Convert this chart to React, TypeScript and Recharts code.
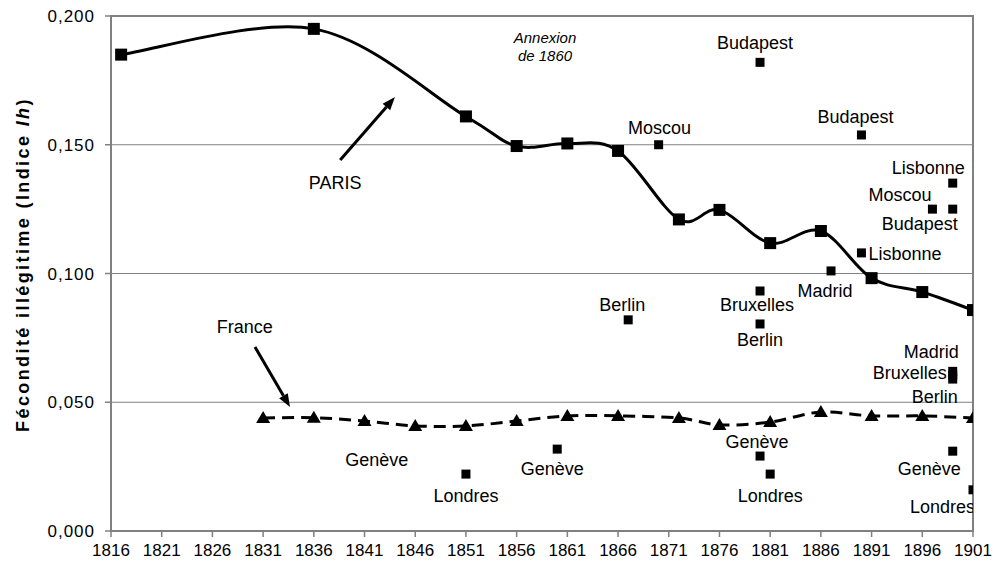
import {
  ComposedChart,
  Line,
  Scatter,
  XAxis,
  YAxis,
  CartesianGrid,
  ReferenceArea,
  ReferenceLine,
  ReferenceDot,
  Label,
} from "recharts";

const xTicks = [1816, 1821, 1826, 1831, 1836, 1841, 1846, 1851, 1856, 1861, 1866, 1871, 1876, 1881, 1886, 1891, 1896, 1901];
const yTicks = [0, 0.05, 0.1, 0.15, 0.2];

const parisYears = [1817, 1836, 1851, 1856, 1861, 1866, 1872, 1876, 1881, 1886, 1891, 1896, 1901];
const parisValues = [0.185, 0.195, 0.161, 0.1495, 0.1505, 0.1476, 0.121, 0.1247, 0.1118, 0.1165, 0.0982, 0.0928, 0.0858];

const franceYears = [1831, 1836, 1841, 1846, 1851, 1856, 1861, 1866, 1872, 1876, 1881, 1886, 1891, 1896, 1901];
const franceValues = [0.0439, 0.044, 0.0427, 0.0408, 0.0408, 0.0427, 0.0447, 0.0447, 0.0439, 0.0412, 0.0423, 0.0462, 0.0447, 0.0447, 0.0439];

const cityNames = [
  "Budapest", "Moscou", "Budapest", "Lisbonne", "Moscou", "Budapest", "Lisbonne", "Madrid",
  "Bruxelles", "Berlin", "Berlin", "Madrid", "Bruxelles", "Berlin",
  "Genève", "Londres", "Genève", "Londres", "Genève", "Londres",
];
const cityYears = [1880, 1870, 1890, 1899, 1897, 1899, 1890, 1887, 1880, 1867, 1880, 1899, 1899, 1899, 1860, 1851, 1880, 1881, 1899, 1901];
const cityValues = [0.182, 0.15, 0.1538, 0.1351, 0.125, 0.125, 0.108, 0.101, 0.0932, 0.082, 0.0804, 0.062, 0.0605, 0.059, 0.0318, 0.0221, 0.0291, 0.0221, 0.031, 0.016];

// label placement for each city point, same order as cityNames: [anchor, dx, dy]
const cityLabelPos: [string, number, number][] = [
  ["middle", -5, -13], ["middle", 1, -11], ["middle", -6, -12], ["end", 12, -9],
  ["end", -1, -8], ["end", 5, 21], ["start", 7, 7], ["middle", -6, 26],
  ["middle", -3, 20], ["middle", -6, -9], ["middle", 0, 22], ["end", 6, -13],
  ["end", -6, 4], ["end", 5, 24], ["middle", -5, 26], ["middle", 0, 28],
  ["middle", -3, -8], ["middle", 0, 28], ["end", 8, 24], ["end", 2, 23],
];

const parisData = parisYears.map((year, i) => ({ year, value: parisValues[i] }));
const franceData = franceYears.map((year, i) => ({ year, value: franceValues[i] }));
const cityData = cityNames.map((name, i) => ({ name, idx: i, year: cityYears[i], value: cityValues[i] }));

const FONT = "'Liberation Sans', Arial, sans-serif";
const GRAY = "#808080";

// Excel-like smoothed line (Catmull-Rom through the points)
const excelSmooth = (context: any) => {
  let pts: number[][] = [];
  return {
    areaStart() {},
    areaEnd() {},
    lineStart() {
      pts = [];
    },
    point(x: number, y: number) {
      pts.push([+x, +y]);
    },
    lineEnd() {
      const n = pts.length;
      if (!n) return;
      context.moveTo(pts[0][0], pts[0][1]);
      for (let i = 0; i < n - 1; i++) {
        const p0 = pts[Math.max(i - 1, 0)];
        const p1 = pts[i];
        const p2 = pts[i + 1];
        const p3 = pts[Math.min(i + 2, n - 1)];
        context.bezierCurveTo(
          p1[0] + (p2[0] - p0[0]) / 6,
          p1[1] + (p2[1] - p0[1]) / 6,
          p2[0] - (p3[0] - p1[0]) / 6,
          p2[1] - (p3[1] - p1[1]) / 6,
          p2[0],
          p2[1]
        );
      }
    },
  };
};

const fmt = (v: number) => v.toFixed(3).replace(".", ",");

const XTick = (p: any) => (
  <text x={p.x} y={p.y} dy="0.75em" textAnchor="middle" fontSize={17} fontFamily={FONT} fill="#000">
    {p.payload.value}
  </text>
);

const YTick = (p: any) => (
  <text x={p.x} y={p.y} dy="0.36em" textAnchor="end" fontSize={17} letterSpacing={1} fontFamily={FONT} fill="#000">
    {fmt(p.payload.value)}
  </text>
);

const SquareDot = (p: any) => (
  <rect key={`sq-${p.index}`} x={p.cx - 6} y={p.cy - 6} width={12} height={12} fill="#000" />
);

const TriangleDot = (p: any) => (
  <polygon
    key={`tr-${p.index}`}
    points={`${p.cx},${p.cy - 7} ${p.cx + 7},${p.cy + 5} ${p.cx - 7},${p.cy + 5}`}
    fill="#000"
  />
);

const CityShape = (p: any) => {
  const d = p.payload ?? p;
  const [anchor, dx, dy] = cityLabelPos[d.idx] ?? ["middle", 0, -10];
  return (
    <g>
      <rect x={p.cx - 4.5} y={p.cy - 4.5} width={9} height={9} fill="#000" />
      <text x={p.cx + dx} y={p.cy + dy} textAnchor={anchor} fontSize={18} fontFamily={FONT} fill="#000">
        {d.name}
      </text>
    </g>
  );
};

const Arrow = (p: any) => {
  const { x1, y1, x2, y2 } = p;
  const ang = Math.atan2(y2 - y1, x2 - x1);
  const len = 13;
  const w = 5;
  const bx = x2 - len * Math.cos(ang);
  const by = y2 - len * Math.sin(ang);
  const nx = -Math.sin(ang) * w;
  const ny = Math.cos(ang) * w;
  return (
    <g>
      <line x1={x1} y1={y1} x2={bx} y2={by} stroke="#000" strokeWidth={3} />
      <polygon points={`${x2},${y2} ${bx + nx},${by + ny} ${bx - nx},${by - ny}`} fill="#000" />
    </g>
  );
};

const YTitle = (props: any) => {
  const vb = props.viewBox || {};
  const cy = (vb.y ?? 16) + (vb.height ?? 515) / 2 - 9;
  return (
    <text
      x={23}
      y={cy}
      transform={`rotate(-90, 23, ${cy})`}
      textAnchor="middle"
      dominantBaseline="central"
      fontSize={18}
      fontWeight="bold"
      letterSpacing={2.4}
      fontFamily={FONT}
      fill="#000"
    >
      Fécondité illégitime (Indice <tspan fontStyle="italic">Ih</tspan>)
    </text>
  );
};

export default function App() {
  return (
    <div style={{ position: "absolute", left: 0, top: 0, width: 995, height: 566, background: "#fff" }}>
      <ComposedChart width={995} height={566} margin={{ top: 16, right: 22, bottom: 0, left: 0 }}>
        <CartesianGrid vertical={false} stroke={GRAY} strokeWidth={1} />
        <XAxis
          type="number"
          dataKey="year"
          domain={[1816, 1901]}
          ticks={xTicks}
          allowDataOverflow
          height={35}
          interval={0}
          tickSize={6}
          tickMargin={6}
          axisLine={{ stroke: GRAY, strokeWidth: 2 }}
          tickLine={{ stroke: GRAY, strokeWidth: 1.5 }}
          tick={XTick}
        />
        <YAxis
          type="number"
          domain={[0, 0.2]}
          ticks={yTicks}
          width={111}
          tickSize={6}
          tickMargin={10}
          axisLine={{ stroke: GRAY, strokeWidth: 2 }}
          tickLine={{ stroke: GRAY, strokeWidth: 1.5 }}
          tick={YTick}
        >
          <Label content={YTitle} />
        </YAxis>
        <ReferenceArea x1={1816} x2={1901} y1={0} y2={0.2} fill="none" stroke={GRAY} strokeWidth={2} ifOverflow="visible" />

        <Line
          data={franceData}
          dataKey="value"
          type={excelSmooth as any}
          stroke="#000"
          strokeWidth={3}
          strokeDasharray="12 7"
          dot={TriangleDot}
          activeDot={false}
          isAnimationActive={false}
        />
        <Line
          data={parisData}
          dataKey="value"
          type={excelSmooth as any}
          stroke="#000"
          strokeWidth={3}
          dot={SquareDot}
          activeDot={false}
          isAnimationActive={false}
        />
        <Scatter data={cityData} dataKey="value" shape={CityShape} isAnimationActive={false} />

        <ReferenceLine
          segment={[{ x: 1838.6, y: 0.1441 }, { x: 1844, y: 0.1685 }]}
          ifOverflow="visible"
          shape={Arrow}
        />
        <ReferenceLine
          segment={[{ x: 1830.2, y: 0.0715 }, { x: 1833.65, y: 0.0482 }]}
          ifOverflow="visible"
          shape={Arrow}
        />
        <ReferenceDot
          x={1838.1}
          y={0.135}
          ifOverflow="visible"
          shape={(p: any) => (
            <text x={p.cx} y={p.cy + 6} textAnchor="middle" fontSize={18} fontFamily={FONT} fill="#000">
              PARIS
            </text>
          )}
        />
        <ReferenceDot
          x={1829.2}
          y={0.0792}
          ifOverflow="visible"
          shape={(p: any) => (
            <text x={p.cx} y={p.cy + 6} textAnchor="middle" fontSize={18} fontFamily={FONT} fill="#000">
              France
            </text>
          )}
        />
        <ReferenceDot
          x={1842.2}
          y={0.0276}
          ifOverflow="visible"
          shape={(p: any) => (
            <text x={p.cx} y={p.cy + 6} textAnchor="middle" fontSize={18} fontFamily={FONT} fill="#000">
              Genève
            </text>
          )}
        />
        <ReferenceDot
          x={1858.8}
          y={0.1915}
          ifOverflow="visible"
          shape={(p: any) => (
            <text textAnchor="middle" fontSize={15} fontStyle="italic" fontFamily={FONT} fill="#000">
              <tspan x={p.cx} y={p.cy + 5}>Annexion</tspan>
              <tspan x={p.cx} y={p.cy + 23}>de 1860</tspan>
            </text>
          )}
        />
      </ComposedChart>
    </div>
  );
}
